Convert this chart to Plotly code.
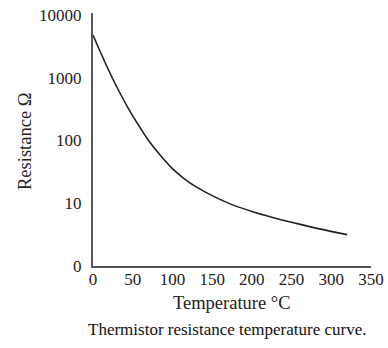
import plotly.graph_objects as go

temperature_c = [0, 10, 20, 30, 45, 60, 70, 85, 100, 115, 130, 150, 175, 200, 225, 255, 285, 320]
resistance_ohm = [4790, 2450, 1290, 710, 316, 155, 100, 57.5, 35.5, 24.5, 18.2, 13.2, 9.5, 7.4, 6.0, 4.8, 3.9, 3.16]

x_ticks = [0, 50, 100, 150, 200, 250, 300, 350]
y_tickvals = [1, 10, 100, 1000, 10000]
y_ticktext = ["0", "10", "100", "1000", "10000"]

font_family = "Liberation Serif, Times New Roman, serif"
W, H = 388, 348
L, R, T, B = 93, 17, 13, 82
pw, ph = W - L - R, H - T - B


def px_to_paper(px, py):
    return (px - L) / pw, (H - B - py) / ph


fig = go.Figure()
fig.add_trace(go.Scatter(
    x=temperature_c, y=resistance_ohm, mode="lines",
    line=dict(color="#222222", width=1.6, shape="spline", smoothing=1.0),
    showlegend=False, hoverinfo="skip",
))

fig.update_layout(
    width=W, height=H,
    margin=dict(l=L, r=R, t=T, b=B),
    paper_bgcolor="white", plot_bgcolor="white",
    font=dict(family=font_family, size=17, color="#222222"),
    xaxis=dict(
        range=[0, 350], tickvals=x_ticks, ticks="", showgrid=False, zeroline=False,
        showline=True, linecolor="#555555", linewidth=2, automargin=False,
        tickfont=dict(size=17), ticklabelstandoff=-3, ticklabeloverflow="allow",
    ),
    yaxis=dict(
        type="log", range=[0, 4.03], tickvals=y_tickvals, ticktext=y_ticktext,
        ticks="", showgrid=False, zeroline=False, automargin=False,
        showline=True, linecolor="#555555", linewidth=2,
        tickfont=dict(size=17), ticklabelstandoff=6, ticklabeloverflow="allow",
    ),
)

xt, yt = px_to_paper(232, 303)
fig.add_annotation(text="Temperature °C", xref="paper", yref="paper", x=xt, y=yt,
                   xanchor="center", yanchor="middle", showarrow=False,
                   font=dict(size=18.5, family=font_family, color="#222222"))
xy, yy = px_to_paper(25, 141)
fig.add_annotation(text="Resistance Ω", xref="paper", yref="paper", x=xy, y=yy,
                   xanchor="center", yanchor="middle", showarrow=False, textangle=-90,
                   font=dict(size=18.5, family=font_family, color="#222222"))
xc, yc = px_to_paper(227, 330)
fig.add_annotation(text="Thermistor resistance temperature curve.", xref="paper", yref="paper",
                   x=xc, y=yc, xanchor="center", yanchor="middle", showarrow=False,
                   font=dict(size=17, family=font_family, color="#111111"))

# remove the browser's default 8px page margin so the figure fills the window exactly
fig.write_html(
    "out.html",
    config={"displayModeBar": False},
    post_script="document.body.style.margin='0';document.body.style.overflow='hidden';",
)
